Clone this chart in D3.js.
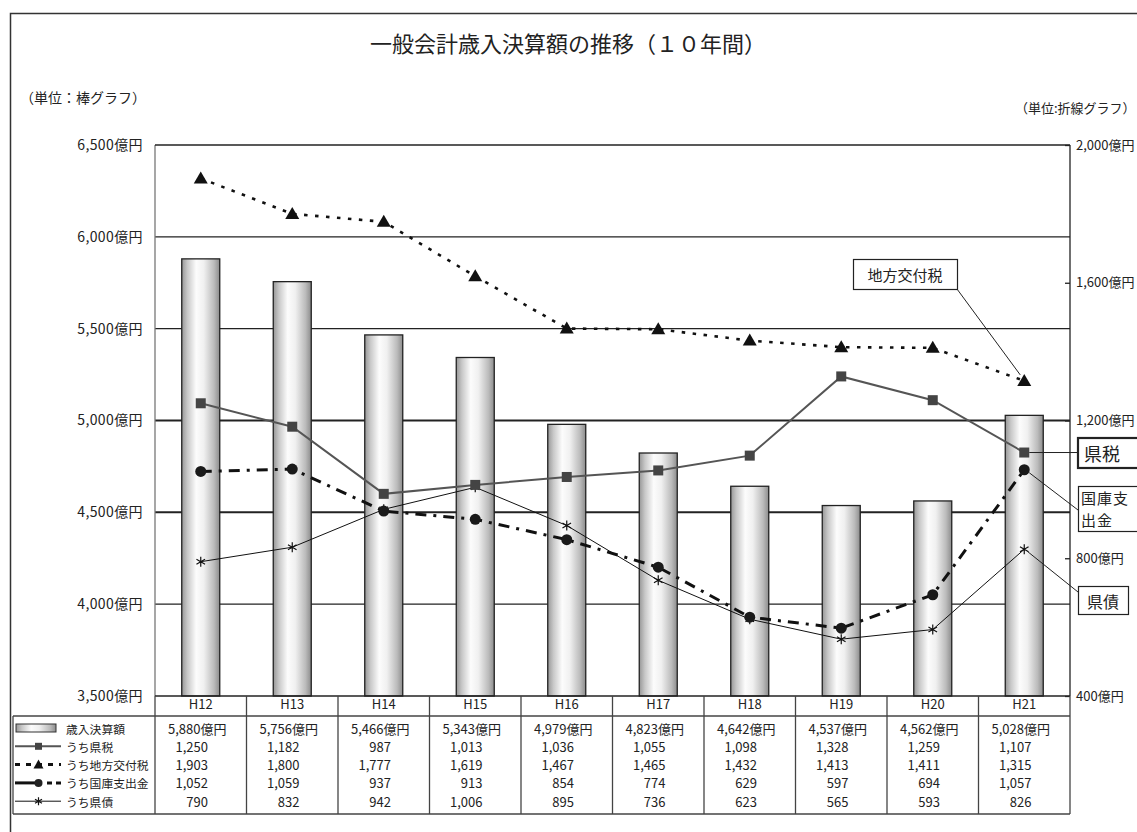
<!DOCTYPE html>
<html><head><meta charset="utf-8">
<script src="https://cdn.jsdelivr.net/npm/d3@7"></script>
<style>
body{margin:0;background:#fff;}
text{font-family:"Noto Sans CJK JP","Noto Sans",sans-serif;fill:#222;}
</style></head><body>
<svg id="chart" width="1137" height="832"></svg>
<script>
// 年度
const years = ["H12","H13","H14","H15","H16","H17","H18","H19","H20","H21"];
// 歳入決算額（億円・棒グラフ）
const revenue = [5880,5756,5466,5343,4979,4823,4642,4537,4562,5028];
// 内訳（億円・折線グラフ）
const prefTax = [1250,1182,987,1013,1036,1055,1098,1328,1259,1107];
const localAllocTax = [1903,1800,1777,1619,1467,1465,1432,1413,1411,1315];
const treasuryDisb = [1052,1059,937,913,854,774,629,597,694,1057];
const prefBonds = [790,832,942,1006,895,736,623,565,593,826];
// 目盛
const leftTicks = [3500,4000,4500,5000,5500,6000,6500];
const rightTicks = [400,800,1200,1600,2000];
const legendNames = ["歳入決算額","うち県税","うち地方交付税","うち国庫支出金","うち県債"];

const svg = d3.select("#chart");
const P = {left:155, right:1070, top:145, bottom:696};
const x = d3.scaleBand().domain(years).range([P.left, P.right]);
const bw = x.bandwidth();
const cx = d => x(d) + bw/2;
const yL = d3.scaleLinear().domain([3500,6500]).range([P.bottom, P.top]);
const yR = d3.scaleLinear().domain([400,2000]).range([P.bottom, P.top]);
const fmt = d3.format(",");

// 棒のグラデーション
const defs = svg.append("defs");
const g1 = defs.append("linearGradient").attr("id","barGrad").attr("x1","0").attr("x2","1").attr("y1","0").attr("y2","0");
[[0,"#979797"],[0.15,"#c8c8c8"],[0.38,"#fcfcfc"],[0.58,"#f0f0f0"],[0.85,"#bbbbbb"],[1,"#8c8c8c"]]
  .forEach(([o,c]) => g1.append("stop").attr("offset",o).attr("stop-color",c));

// 外枠
svg.append("rect").attr("x",10.5).attr("y",13.5).attr("width",1200).attr("height",900)
  .attr("fill","none").attr("stroke","#333").attr("stroke-width",1.5);

// タイトル・単位
svg.append("text").attr("x",568).attr("y",42).attr("text-anchor","middle")
  .attr("dominant-baseline","central").attr("font-size",22).text("一般会計歳入決算額の推移（１０年間）");
svg.append("text").attr("x",20).attr("y",97).attr("dominant-baseline","central")
  .attr("font-size",14).text("（単位：棒グラフ）");
svg.append("text").attr("x",1015).attr("y",107).attr("dominant-baseline","central")
  .attr("font-size",13).text("（単位:折線グラフ）");

// 目盛線
const grid = svg.append("g");
leftTicks.filter(t => t > 3500 && t < 6500).forEach(t => {
  grid.append("line").attr("x1",P.left).attr("x2",P.right).attr("y1",yL(t)).attr("y2",yL(t))
    .attr("stroke","#222").attr("stroke-width",(t===4500||t===5000)?2:1.1);
});

// 棒
svg.append("g").selectAll("rect").data(years).join("rect")
  .attr("x", d => cx(d) - 19).attr("width", 38)
  .attr("y", (d,i) => yL(revenue[i])).attr("height", (d,i) => P.bottom - yL(revenue[i]))
  .attr("fill","url(#barGrad)").attr("stroke","#222").attr("stroke-width",1.3);

// グラフ枠
svg.append("line").attr("x1",P.left).attr("x2",P.left).attr("y1",P.top).attr("y2",P.bottom).attr("stroke","#777").attr("stroke-width",1.3);
svg.append("line").attr("x1",P.left).attr("x2",P.right).attr("y1",P.top).attr("y2",P.top).attr("stroke","#222").attr("stroke-width",1.3);
svg.append("line").attr("x1",P.right).attr("x2",P.right).attr("y1",P.top).attr("y2",P.bottom).attr("stroke","#222").attr("stroke-width",1.3);
svg.append("line").attr("x1",P.left).attr("x2",P.right).attr("y1",P.bottom).attr("y2",P.bottom).attr("stroke","#222").attr("stroke-width",1.5);

// 左軸
const axL = svg.append("g").attr("transform",`translate(${P.left},0)`)
  .call(d3.axisLeft(yL).tickValues(leftTicks).tickSize(0).tickPadding(12).tickFormat(d => fmt(d)+"億円"));
axL.select(".domain").remove();
axL.selectAll("text").attr("font-size",14).attr("font-family",null).attr("fill","#222").attr("letter-spacing",0.4);

// 右軸
const axR = svg.append("g").attr("transform",`translate(${P.right},0)`)
  .call(d3.axisRight(yR).tickValues(rightTicks).tickSize(-5).tickPadding(6).tickFormat(d => fmt(d)+"億円"));
axR.select(".domain").remove();
axR.selectAll("line").attr("stroke","#222").attr("stroke-width",1.3);
axR.selectAll("text").attr("font-size",13).attr("font-family",null).attr("fill","#222");

// 折線
const series = [
  {vals:prefBonds, stroke:"#111", width:1, dash:null},
  {vals:treasuryDisb, stroke:"#111", width:3, dash:"11,7,3,7"},
  {vals:localAllocTax, stroke:"#111", width:2.6, dash:"3.5,7.5"},
  {vals:prefTax, stroke:"#555", width:2, dash:null}
];
series.forEach(s => {
  svg.append("path").datum(years).attr("fill","none").attr("stroke",s.stroke)
    .attr("stroke-width",s.width).attr("stroke-dasharray",s.dash)
    .attr("d", d3.line().x(d => cx(d)).y((d,i) => yR(s.vals[i])));
});

// マーカー
const triPath = "M0,-7L7,5L-7,5Z";
const starPath = "M0,-5V5M-4.3,-2.5L4.3,2.5M-4.3,2.5L4.3,-2.5";
svg.append("g").selectAll("path").data(years).join("path")
  .attr("transform",(d,i)=>`translate(${cx(d)},${yR(prefBonds[i])})`)
  .attr("d",starPath).attr("stroke","#111").attr("stroke-width",1.2).attr("fill","none");
svg.append("g").selectAll("circle").data(years).join("circle")
  .attr("cx",d=>cx(d)).attr("cy",(d,i)=>yR(treasuryDisb[i])).attr("r",5.5).attr("fill","#1a1a1a");
svg.append("g").selectAll("path").data(years).join("path")
  .attr("transform",(d,i)=>`translate(${cx(d)},${yR(localAllocTax[i])})`)
  .attr("d",triPath).attr("fill","#111");
svg.append("g").selectAll("rect").data(years).join("rect")
  .attr("x",d=>cx(d)-5).attr("y",(d,i)=>yR(prefTax[i])-5).attr("width",10).attr("height",10).attr("fill","#444");

// 引出し線と注記
const last = years[years.length-1];
const lx = cx(last);
const leaders = [
  [957,289, lx-4, yR(localAllocTax[9])-6],
  [lx+5, yR(prefTax[9]), 1078, yR(prefTax[9])],
  [lx+5, yR(treasuryDisb[9])+3, 1078, 510],
  [lx+3, yR(prefBonds[9])+2, 1078, 592]
];
leaders.forEach(l => svg.append("line").attr("x1",l[0]).attr("y1",l[1]).attr("x2",l[2]).attr("y2",l[3])
  .attr("stroke","#222").attr("stroke-width",1));

function box(x0,y0,w,h,sw){
  svg.append("rect").attr("x",x0).attr("y",y0).attr("width",w).attr("height",h)
    .attr("fill","#fff").attr("stroke","#222").attr("stroke-width",sw);
}
box(853.5,259.5,104,30,1.2);
svg.append("text").attr("x",905).attr("y",274).attr("text-anchor","middle").attr("dominant-baseline","central").attr("font-size",15).text("地方交付税");
box(1078,438,80,30,2.2);
svg.append("text").attr("x",1084).attr("y",453).attr("dominant-baseline","central").attr("font-size",18).text("県税");
box(1078.5,486.5,80,45,1.2);
svg.append("text").attr("x",1081).attr("y",497).attr("dominant-baseline","central").attr("font-size",15).attr("letter-spacing",1).text("国庫支");
svg.append("text").attr("x",1081).attr("y",519.5).attr("dominant-baseline","central").attr("font-size",15).attr("letter-spacing",1).text("出金");
box(1078.5,586.5,50,28,1.2);
svg.append("text").attr("x",1103).attr("y",601).attr("text-anchor","middle").attr("dominant-baseline","central").attr("font-size",16).text("県債");

// 年度ラベル
const axB = svg.append("g").attr("transform",`translate(0,${P.bottom})`)
  .call(d3.axisBottom(x).tickSize(0).tickPadding(4));
axB.select(".domain").remove();
axB.selectAll("text").attr("font-size",13).attr("font-family",null).attr("fill","#222");

// データ表
const T = {left:13, top:716, bottom:814};
const tl = svg.append("g").attr("stroke","#444").attr("stroke-width",1.3);
tl.append("line").attr("x1",T.left).attr("x2",P.right).attr("y1",T.top).attr("y2",T.top);
tl.append("line").attr("x1",T.left).attr("x2",P.right).attr("y1",T.bottom).attr("y2",T.bottom);
tl.append("line").attr("x1",T.left).attr("x2",T.left).attr("y1",T.top).attr("y2",T.bottom);
years.concat(["end"]).forEach((d,i) => {
  const xx = d === "end" ? P.right : x(d);
  tl.append("line").attr("x1",xx).attr("x2",xx).attr("y1",P.bottom).attr("y2",T.bottom);
});

const rowY = i => 728 + 18.3*i;
const rows = [revenue, prefTax, localAllocTax, treasuryDisb, prefBonds];
rows.forEach((vals,r) => {
  svg.append("g").selectAll("text").data(years).join("text")
    .attr("x", d => r === 0 ? x(d) + 13 : x(d) + 53)
    .attr("y", rowY(r)).attr("dominant-baseline","central")
    .attr("text-anchor", r === 0 ? "start" : "end")
    .attr("font-size",13)
    .text((d,i) => r === 0 ? fmt(vals[i])+"億円" : fmt(vals[i]));
});

// 凡例
legendNames.forEach((n,i) => {
  svg.append("text").attr("x",66).attr("y",rowY(i)).attr("dominant-baseline","central").attr("font-size",11.8).text(n);
});
svg.append("rect").attr("x",16).attr("y",rowY(0)-4).attr("width",40).attr("height",8)
  .attr("fill","url(#barGrad)").attr("stroke","#333").attr("stroke-width",1);
svg.append("line").attr("x1",15).attr("x2",61).attr("y1",rowY(1)).attr("y2",rowY(1)).attr("stroke","#555").attr("stroke-width",2);
svg.append("rect").attr("x",35).attr("y",rowY(1)-3.5).attr("width",7).attr("height",7).attr("fill","#444");
svg.append("line").attr("x1",15).attr("x2",61).attr("y1",rowY(2)).attr("y2",rowY(2)).attr("stroke","#111").attr("stroke-width",3).attr("stroke-dasharray","5,6");
svg.append("path").attr("transform",`translate(38.5,${rowY(2)})`).attr("d","M0,-5L5,4L-5,4Z").attr("fill","#111");
svg.append("line").attr("x1",15).attr("x2",38).attr("y1",rowY(3)).attr("y2",rowY(3)).attr("stroke","#111").attr("stroke-width",3);
svg.append("line").attr("x1",47).attr("x2",61).attr("y1",rowY(3)).attr("y2",rowY(3)).attr("stroke","#111").attr("stroke-width",3).attr("stroke-dasharray","5,4");
svg.append("circle").attr("cx",38.5).attr("cy",rowY(3)).attr("r",4).attr("fill","#222");
svg.append("line").attr("x1",15).attr("x2",61).attr("y1",rowY(4)).attr("y2",rowY(4)).attr("stroke","#111").attr("stroke-width",1);
svg.append("path").attr("transform",`translate(38.5,${rowY(4)})`).attr("d","M0,-4V4M-3.5,-2L3.5,2M-3.5,2L3.5,-2").attr("stroke","#111").attr("stroke-width",1.2);
</script>
</body></html>
